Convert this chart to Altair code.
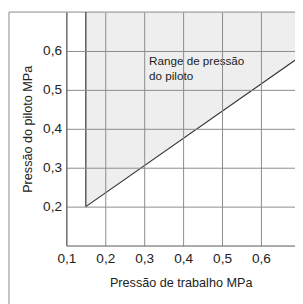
import altair as alt
import pandas as pd

# data
x_ticks = [0.1, 0.2, 0.3, 0.4, 0.5, 0.6]
y_ticks = [0.2, 0.3, 0.4, 0.5, 0.6]
boundary_x = [0.15, 0.7]          # working pressure
boundary_y = [0.2, 0.585]         # minimum pilot pressure
vertical_x = [0.15, 0.15]
vertical_y = [0.2, 0.7]
range_top = 0.7
note_lines = ["Range de pressão", "do piloto"]

FONT = "Liberation Sans"
XD = [0.1, 0.6875]
YD = [0.1, 0.7]

xs = alt.Scale(domain=XD, nice=False, zero=False)
ys = alt.Scale(domain=YD, nice=False, zero=False)

area_df = pd.DataFrame({"x": boundary_x, "y": boundary_y, "top": [range_top] * 2})
line_df = pd.DataFrame({"x": boundary_x, "y": boundary_y})
vert_df = pd.DataFrame({"x": vertical_x, "y": vertical_y})
note_df = pd.DataFrame({"x": [0.3125], "y": [0.564], "t": [note_lines]})

xaxis = alt.Axis(values=x_ticks, format=".1f", title="Pressão de trabalho MPa",
                 grid=True, gridColor="#8a8a8a", gridWidth=1, ticks=False, labelFlush=False,
                 domainColor="#555", labelFont=FONT, labelFontSize=14, labelColor="#222",
                 labelPadding=6, titleFont=FONT, titleFontSize=13, titleFontWeight="normal",
                 titleColor="#222", titlePadding=12, zindex=1, labelExpr="replace(datum.label, '.', ',')")
yaxis = alt.Axis(values=y_ticks, format=".1f", title="Pressão do piloto MPa",
                 grid=True, gridColor="#8a8a8a", gridWidth=1, ticks=False, labelFlush=False,
                 domainColor="#555", labelFont=FONT, labelFontSize=14, labelColor="#222",
                 labelPadding=5, titleFont=FONT, titleFontSize=13, titleFontWeight="normal",
                 titleColor="#222", titlePadding=8, zindex=1, labelExpr="replace(datum.label, '.', ',')")

frame = alt.Chart(pd.DataFrame({"a": [0]})).mark_rect(
    filled=False, stroke="#888", strokeWidth=1, clip=False
).encode(x=alt.value(-59), x2=alt.value(300), y=alt.value(0), y2=alt.value(400))

area = alt.Chart(area_df).mark_area(color="#eeeeee", clip=True).encode(
    x=alt.X("x:Q", scale=xs, axis=xaxis),
    y=alt.Y("y:Q", scale=ys, axis=yaxis),
    y2="top:Q",
)

vert = alt.Chart(vert_df).mark_line(color="#333", strokeWidth=1.2, clip=True).encode(
    x=alt.X("x:Q", scale=xs), y=alt.Y("y:Q", scale=ys))

diag = alt.Chart(line_df).mark_line(color="#333", strokeWidth=1.2, clip=True).encode(
    x=alt.X("x:Q", scale=xs), y=alt.Y("y:Q", scale=ys))

note = alt.Chart(note_df).mark_text(
    align="left", baseline="alphabetic", font=FONT, fontSize=12, color="#222", lineHeight=15
).encode(x=alt.X("x:Q", scale=xs), y=alt.Y("y:Q", scale=ys), text="t")

chart = alt.layer(area, frame, vert, diag, note).properties(
    width=235, height=240,
    autosize=alt.AutoSizeParams(type="none"),
    padding={"left": 60, "top": 0, "right": 0, "bottom": 60},
).configure_view(stroke=None)

chart.save("out.html", embed_options={"renderer": "svg", "actions": False})
